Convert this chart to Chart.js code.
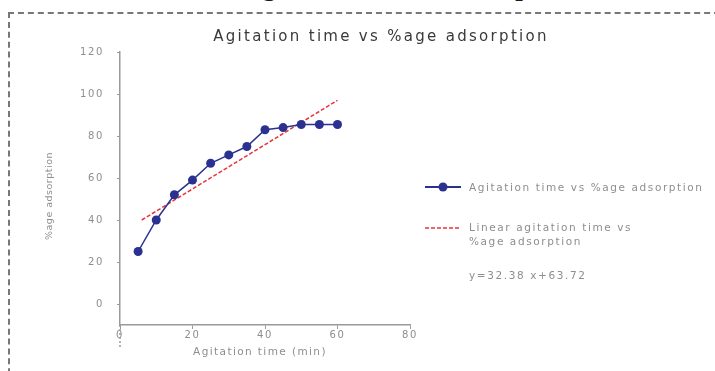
<!DOCTYPE html>
<html>
<head>
<meta charset="utf-8">
<script src="https://cdn.jsdelivr.net/npm/chart.js@4/dist/chart.umd.min.js"></script>
<style>
  html, body { margin: 0; padding: 0; background: #fff; }
  #wrap { position: relative; width: 715px; height: 371px; overflow: hidden; }
  #frame { position: absolute; left: 8px; top: 12px; width: 720px; height: 380px;
           border-top: 2px dashed #777; border-left: 2px dashed #777; }
  #heading { position: absolute; left: 0; width: 715px; top: -29px; text-align: center;
             font: bold 27px "Liberation Serif", serif; color: #1a1a1a; white-space: nowrap; }
  canvas { position: absolute; left: 0; top: 0; }
</style>
</head>
<body>
<div id="wrap">
  <div id="heading">Effect of Agitation time on adsorption</div>
  <div id="frame"></div>
  <canvas id="c" width="715" height="371"></canvas>
</div>
<script>
// agitation time (min) and % adsorption
const agitationTime = [5, 10, 15, 20, 25, 30, 35, 40, 45, 50, 55, 60];
const adsorption = [25, 40, 52, 59, 67, 71, 75, 83, 84, 85.5, 85.5, 85.5];
// linear trend line end points
const fitTime = [6, 60];
const fitValues = [40, 97];
const xTicks = [0, 20, 40, 60, 80];
const yTicks = [0, 20, 40, 60, 80, 100, 120];

const chartTitle = "Agitation time vs %age adsorption";
const xTitle = "Agitation time (min)";
const yTitle = "%age adsorption";
const seriesName = "Agitation time vs %age adsorption";
const fitName = ["Linear agitation time vs", "%age adsorption"];
const fitEquation = "y=32.38 x+63.72";

const BLUE = "#2b3190";
const RED = "#e8333b";
const GREY = "#8e8e8e";
const FONT = "'DejaVu Sans', sans-serif";

Chart.defaults.font.family = FONT;

const extras = {
  id: "extras",
  beforeDraw(chart) {
    // the original uses a wide, loosely spaced face
    chart.ctx.letterSpacing = "1.6px";
  },
  afterDraw(chart) {
    const ctx = chart.ctx;
    const area = chart.chartArea;
    ctx.save();

    // y axis runs on a little below the x axis
    ctx.strokeStyle = "#9a9a9a";
    ctx.lineWidth = 1.5;
    ctx.setLineDash([2, 2]);
    ctx.beginPath(); ctx.moveTo(area.left, area.bottom); ctx.lineTo(area.left, area.bottom + 24); ctx.stroke();
    ctx.setLineDash([]);

    ctx.fillStyle = "#3a3a3a";
    ctx.font = "15px " + FONT;
    ctx.letterSpacing = "2.3px";
    ctx.textAlign = "left";
    ctx.textBaseline = "middle";
    let w = ctx.measureText(chartTitle).width;
    ctx.fillText(chartTitle, 381 - w / 2, 37);

    ctx.fillStyle = GREY;
    ctx.font = "10.5px " + FONT;
    ctx.letterSpacing = "1.4px";
    w = ctx.measureText(xTitle).width;
    ctx.fillText(xTitle, 260 - w / 2, 352);
    ctx.save();
    ctx.translate(50, 196);
    ctx.rotate(-Math.PI / 2);
    ctx.font = "9.5px " + FONT;
    ctx.letterSpacing = "0.5px";
    w = ctx.measureText(yTitle).width;
    ctx.fillText(yTitle, -w / 2, 0);
    ctx.restore();

    // legend
    ctx.font = "10.5px " + FONT;
    ctx.letterSpacing = "1.6px";
    ctx.strokeStyle = BLUE;
    ctx.lineWidth = 2;
    ctx.beginPath(); ctx.moveTo(425, 187); ctx.lineTo(461, 187); ctx.stroke();
    ctx.fillStyle = BLUE;
    ctx.beginPath(); ctx.arc(443, 187, 4.5, 0, Math.PI * 2); ctx.fill();
    ctx.fillStyle = GREY;
    ctx.fillText(seriesName, 469, 188);

    ctx.strokeStyle = RED;
    ctx.lineWidth = 1.5;
    ctx.setLineDash([4, 2]);
    ctx.beginPath(); ctx.moveTo(425, 228); ctx.lineTo(461, 228); ctx.stroke();
    ctx.setLineDash([]);
    ctx.fillText(fitName[0], 469, 228);
    ctx.fillText(fitName[1], 469, 242);
    ctx.fillText(fitEquation, 469, 276);
    ctx.restore();
  }
};

new Chart(document.getElementById("c"), {
  type: "scatter",
  data: {
    datasets: [
      {
        label: seriesName,
        data: agitationTime.map((t, i) => ({ x: t, y: adsorption[i] })),
        showLine: true,
        borderColor: BLUE,
        backgroundColor: BLUE,
        borderWidth: 1.5,
        pointRadius: 4.5,
        pointBorderWidth: 0,
        pointHoverRadius: 4.5
      },
      {
        label: fitName.join(" "),
        data: fitTime.map((t, i) => ({ x: t, y: fitValues[i] })),
        showLine: true,
        borderColor: RED,
        borderWidth: 1.5,
        borderDash: [4, 2],
        pointRadius: 0
      }
    ]
  },
  options: {
    responsive: false,
    animation: false,
    layout: { padding: { left: 0, right: 305, top: 52, bottom: 0 } },
    plugins: { legend: { display: false }, title: { display: false }, tooltip: { enabled: false } },
    scales: {
      x: {
        type: "linear",
        min: 0,
        max: 80,
        afterBuildTicks: s => { s.ticks = xTicks.map(v => ({ value: v })); },
        afterFit: s => { s.height = 46; },
        grid: { display: true, drawOnChartArea: false, drawTicks: true, tickLength: 4, color: "#9a9a9a" },
        border: { display: true, color: "#9a9a9a", width: 1.5, dash: [2, 2] },
        ticks: { color: GREY, font: { size: 10 }, padding: 0 }
      },
      y: {
        type: "linear",
        min: -10,
        max: 120,
        afterBuildTicks: s => { s.ticks = yTicks.map(v => ({ value: v })); },
        afterFit: s => { s.width = 120; },
        grid: { display: true, drawOnChartArea: false, drawTicks: true, tickLength: 3, color: "#9a9a9a" },
        border: { display: true, color: "#9a9a9a", width: 1.5, dash: [2, 2] },
        ticks: { color: GREY, font: { size: 10 }, padding: 13 }
      }
    }
  },
  plugins: [extras]
});
</script>
</body>
</html>
